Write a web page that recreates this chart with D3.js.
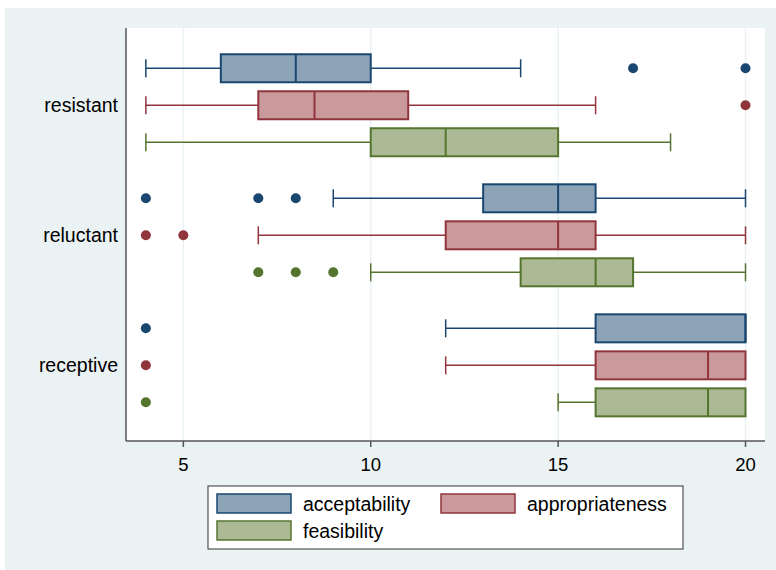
<!DOCTYPE html>
<html>
<head>
<meta charset="utf-8">
<script src="https://cdn.jsdelivr.net/npm/d3@7"></script>
<style>
  body { margin: 0; background: #fff; }
  text { font-family: Arial, "Liberation Sans", sans-serif; fill: #000; }
</style>
</head>
<body>
<script>
// categories and series
const groups = ["resistant", "reluctant", "receptive"];
const series = ["acceptability", "appropriateness", "feasibility"];

// box values, one row per group, one column per series
const whiskerLo = [[4, 4, 4], [9, 7, 10], [12, 12, 15]];
const boxQ1 = [[6, 7, 10], [13, 12, 14], [16, 16, 16]];
const medians = [[8, 8.5, 12], [15, 15, 16], [20, 19, 19]];
const boxQ3 = [[10, 11, 15], [16, 16, 17], [20, 20, 20]];
const whiskerHi = [[14, 16, 18], [20, 20, 20], [20, 20, 20]];
const outliers = [
  [[17, 20], [20], []],
  [[4, 7, 8], [4, 5], [7, 8, 9]],
  [[4], [4], [4]]
];
const xTicks = [5, 10, 15, 20];

const lineColors = ["#1a476f", "#90353b", "#55752f"];
const fillColors = ["#8da3b8", "#c9999c", "#abba95"];

var width = 776, height = 570;
var plot = {left: 126, right: 765, top: 28, bottom: 441};

var svg = d3.select("body").append("svg")
    .attr("width", width)
    .attr("height", height);

// outer background
svg.append("rect")
    .attr("x", 5).attr("y", 8)
    .attr("width", width - 5).attr("height", height - 8)
    .attr("fill", "#eaf2f3");

svg.append("rect")
    .attr("x", plot.left).attr("y", plot.top)
    .attr("width", plot.right - plot.left).attr("height", plot.bottom - plot.top)
    .attr("fill", "#fff");

var x = d3.scaleLinear().domain([3.47, 20.52]).range([plot.left, plot.right]);
// group centres sit a little below the middle of the plot, as in stata
var yGroup = d3.scalePoint().domain(groups).range([plot.top + 0.8, plot.bottom + 0.8]).padding(0.588);
var ySeries = d3.scalePoint().domain(series).range([-37, 37]);
var boxH = 28, capH = 18;

// grid lines
svg.selectAll(".grid")
    .data(xTicks)
    .enter().append("line")
    .attr("x1", d => x(d)).attr("x2", d => x(d))
    .attr("y1", plot.top).attr("y2", plot.bottom)
    .attr("stroke", "#eaf2f3")
    .attr("stroke-width", 1.5);

// build rows
var rows = [];
groups.forEach(function(g, gi) {
  series.forEach(function(s, si) {
    rows.push({
      g: g, s: s, si: si,
      y: yGroup(g) + ySeries(s),
      lo: whiskerLo[gi][si], q1: boxQ1[gi][si], med: medians[gi][si],
      q3: boxQ3[gi][si], hi: whiskerHi[gi][si], out: outliers[gi][si]
    });
  });
});

var row = svg.selectAll(".row")
    .data(rows)
    .enter().append("g")
    .attr("class", "row");

// whiskers
row.append("line")
    .attr("x1", d => x(d.lo)).attr("x2", d => x(d.q1))
    .attr("y1", d => d.y).attr("y2", d => d.y)
    .attr("stroke", d => lineColors[d.si]).attr("stroke-width", 1.5);
row.append("line")
    .attr("x1", d => x(d.q3)).attr("x2", d => x(d.hi))
    .attr("y1", d => d.y).attr("y2", d => d.y)
    .attr("stroke", d => lineColors[d.si]).attr("stroke-width", 1.5);
row.filter(d => d.lo < d.q1).append("line")
    .attr("x1", d => x(d.lo)).attr("x2", d => x(d.lo))
    .attr("y1", d => d.y - capH / 2).attr("y2", d => d.y + capH / 2)
    .attr("stroke", d => lineColors[d.si]).attr("stroke-width", 1.5);
row.filter(d => d.hi > d.q3).append("line")
    .attr("x1", d => x(d.hi)).attr("x2", d => x(d.hi))
    .attr("y1", d => d.y - capH / 2).attr("y2", d => d.y + capH / 2)
    .attr("stroke", d => lineColors[d.si]).attr("stroke-width", 1.5);

// boxes
row.append("rect")
    .attr("x", d => x(d.q1))
    .attr("y", d => d.y - boxH / 2)
    .attr("width", d => x(d.q3) - x(d.q1))
    .attr("height", boxH)
    .attr("fill", d => fillColors[d.si])
    .attr("stroke", d => lineColors[d.si])
    .attr("stroke-width", 2);
row.append("line")
    .attr("x1", d => x(d.med)).attr("x2", d => x(d.med))
    .attr("y1", d => d.y - boxH / 2).attr("y2", d => d.y + boxH / 2)
    .attr("stroke", d => lineColors[d.si]).attr("stroke-width", 2);

// outside values
row.selectAll("circle")
    .data(d => d.out.map(v => ({v: v, y: d.y, si: d.si})))
    .enter().append("circle")
    .attr("cx", d => x(d.v))
    .attr("cy", d => d.y)
    .attr("r", 5)
    .attr("fill", d => lineColors[d.si]);

// axes
svg.append("line")
    .attr("x1", plot.left).attr("x2", plot.left)
    .attr("y1", plot.top).attr("y2", plot.bottom)
    .attr("stroke", "#555").attr("stroke-width", 1.5);
svg.append("line")
    .attr("x1", plot.left).attr("x2", plot.right)
    .attr("y1", plot.bottom).attr("y2", plot.bottom)
    .attr("stroke", "#555").attr("stroke-width", 1.5);

svg.selectAll(".xtick")
    .data(xTicks)
    .enter().append("line")
    .attr("x1", d => x(d)).attr("x2", d => x(d))
    .attr("y1", plot.bottom).attr("y2", plot.bottom + 6)
    .attr("stroke", "#555").attr("stroke-width", 1.5);

svg.selectAll(".xlabel")
    .data(xTicks)
    .enter().append("text")
    .attr("x", d => x(d))
    .attr("y", 471)
    .attr("text-anchor", "middle")
    .style("font-size", "18.5px")
    .text(d => d);

svg.selectAll(".ylabel")
    .data(groups)
    .enter().append("text")
    .attr("x", 118)
    .attr("y", d => yGroup(d))
    .attr("dy", "0.35em")
    .attr("text-anchor", "end")
    .style("font-size", "19.5px")
    .text(d => d);

// legend
var legend = svg.append("g");
legend.append("rect")
    .attr("x", 208).attr("y", 486)
    .attr("width", 475).attr("height", 63)
    .attr("fill", "#fff")
    .attr("stroke", "#333").attr("stroke-width", 1);

var legPos = [[217, 494], [441, 494], [217, 521]];
var legItem = legend.selectAll(".item")
    .data(series)
    .enter().append("g")
    .attr("transform", (d, i) => "translate(" + legPos[i][0] + "," + legPos[i][1] + ")");
legItem.append("rect")
    .attr("width", 74).attr("height", 19)
    .attr("fill", (d, i) => fillColors[i])
    .attr("stroke", (d, i) => lineColors[i])
    .attr("stroke-width", 1.5);
legItem.append("text")
    .attr("x", 86)
    .attr("y", 17)
    .style("font-size", "19.5px")
    .text(d => d);
</script>
</body>
</html>
